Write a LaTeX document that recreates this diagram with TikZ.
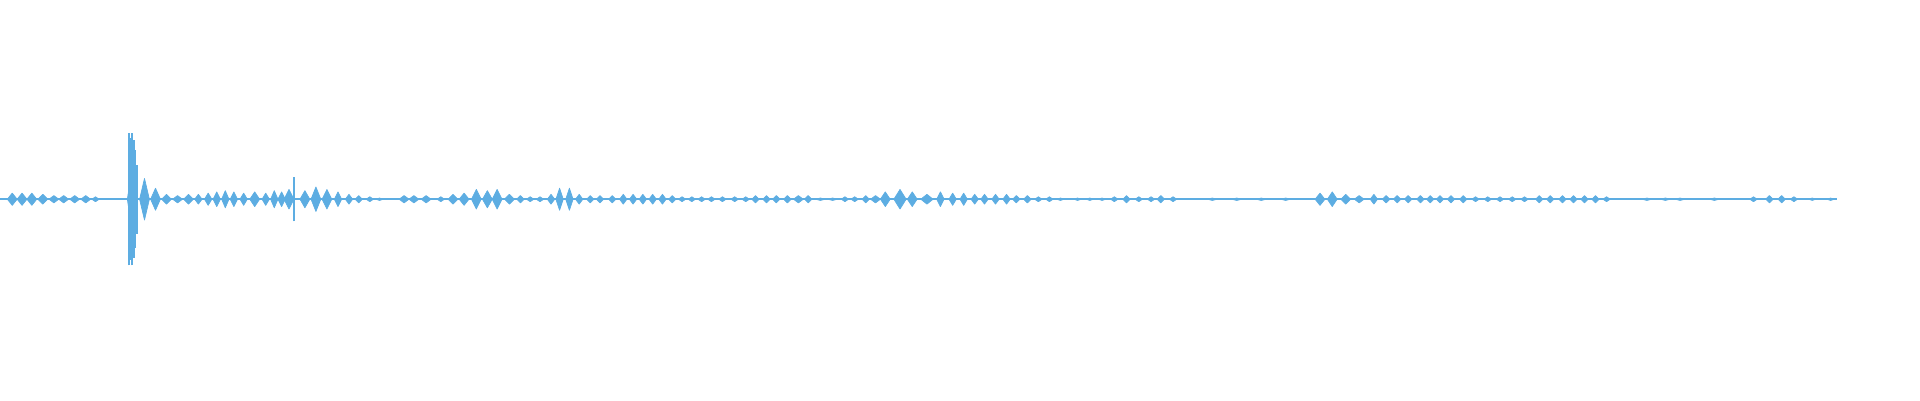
\documentclass[tikz,border=0pt]{standalone}
\usepackage{tikz}
\definecolor{wave}{HTML}{5DADE2}
\tikzset{
  lobe/.style={fill=wave, draw=wave, line width=0.2pt, line join=round},
  spike/.style={draw=wave, line width=0.6pt},
  axisline/.style={draw=wave, line width=0.5pt}
}
\begin{document}
\begin{tikzpicture}[x=0.012245cm, y=0.012245cm]
        \useasboundingbox (0,0) rectangle (1568,326.7);
        \coordinate (start) at (0,164);
        \coordinate (stop) at (1500,164);
        \draw[axisline] (start) -- (stop);
        % thin spikes
        \foreach \x/\h in {105/54,106/50,108/54,109/48,110/40,112/28,240/18}
        \draw[spike] (\x,164-\h) -- (\x,164+\h);
        % lobes: position / half height / half width
        \foreach \x/\h/\w in {10/5/4,18/5/4,26/5/4,35/4/4,44/3/4,52/3/4,61/3/4,70/3/4,78/2/3,
            107/20/3,118/17/4,127/9/4,136/4/4,145/3/4,154/4/4,162/4/3,
            170/5/3,177/6/3,184/7/3,191/6/3,199/5/3,208/6/4,217/5/3,224/7/3,230/6/3,236/8/4,
            249/7/4,258/10/4,267/8/4,276/6/3,285/4/3,293/3/3,302/2/3,310/1/3,
            330/3/4,338/3/4,348/3/4,360/2/3,370/4/4,379/5/4,389/8/4,398/7/4,406/8/4,416/4/4,
            425/3/3,433/2/3,441/2/3,450/4/3,457/9/3,465/9/3,473/4/3,482/3/3,490/3/3,500/3/3,
            509/4/3,517/4/3,525/4/3,533/4/3,541/4/3,549/3/3,557/2/3,565/2/3,573/2/3,581/2/3,
            590/2/3,600/2/3,609/2/3,617/3/3,626/3/3,634/3/3,643/3/3,652/3/4,660/3/3,670/1/4,
            680/1/4,690/2/3,698/2/3,707/3/3,715/3/4,723/6/4,735/8/5,745/6/4,757/4/5,768/6/3,
            778/5/3,787/5/3,796/4/3,804/4/3,813/4/3,822/4/3,830/3/3,839/3/3,848/2/3,857/2/3,
            866/1/3,880/1/3,890/1/3,900/1/3,910/2/3,920/3/3,930/2/3,940/2/3,948/3/3,958/2/3,
            990/1/4,1010/1/4,1030/1/4,1050/1/4,1078/5/4,1088/6/4,1099/4/4,1110/3/4,1122/4/3,
            1132/3/3,1141/3/3,1150/3/3,1160/3/3,1168/3/3,1176/3/3,1185/3/3,1195/3/3,1205/2/3,
            1215/2/3,1225/2/3,1235/2/3,1245/2/3,1257/3/3,1266/3/3,1276/3/3,1285/3/3,1294/3/3,
            1303/3/3,1312/2/3,1345/1/4,1360/1/4,1372/1/4,1400/1/4,1432/2/3,1445/3/3,1455/3/3,
            1465/2/3,1480/1/3,1495/1/3}
        \fill[lobe] (\x-\w,164) -- (\x,164+\h) -- (\x+\w,164) -- (\x,164-\h) -- cycle;
\end{tikzpicture}
\end{document}
